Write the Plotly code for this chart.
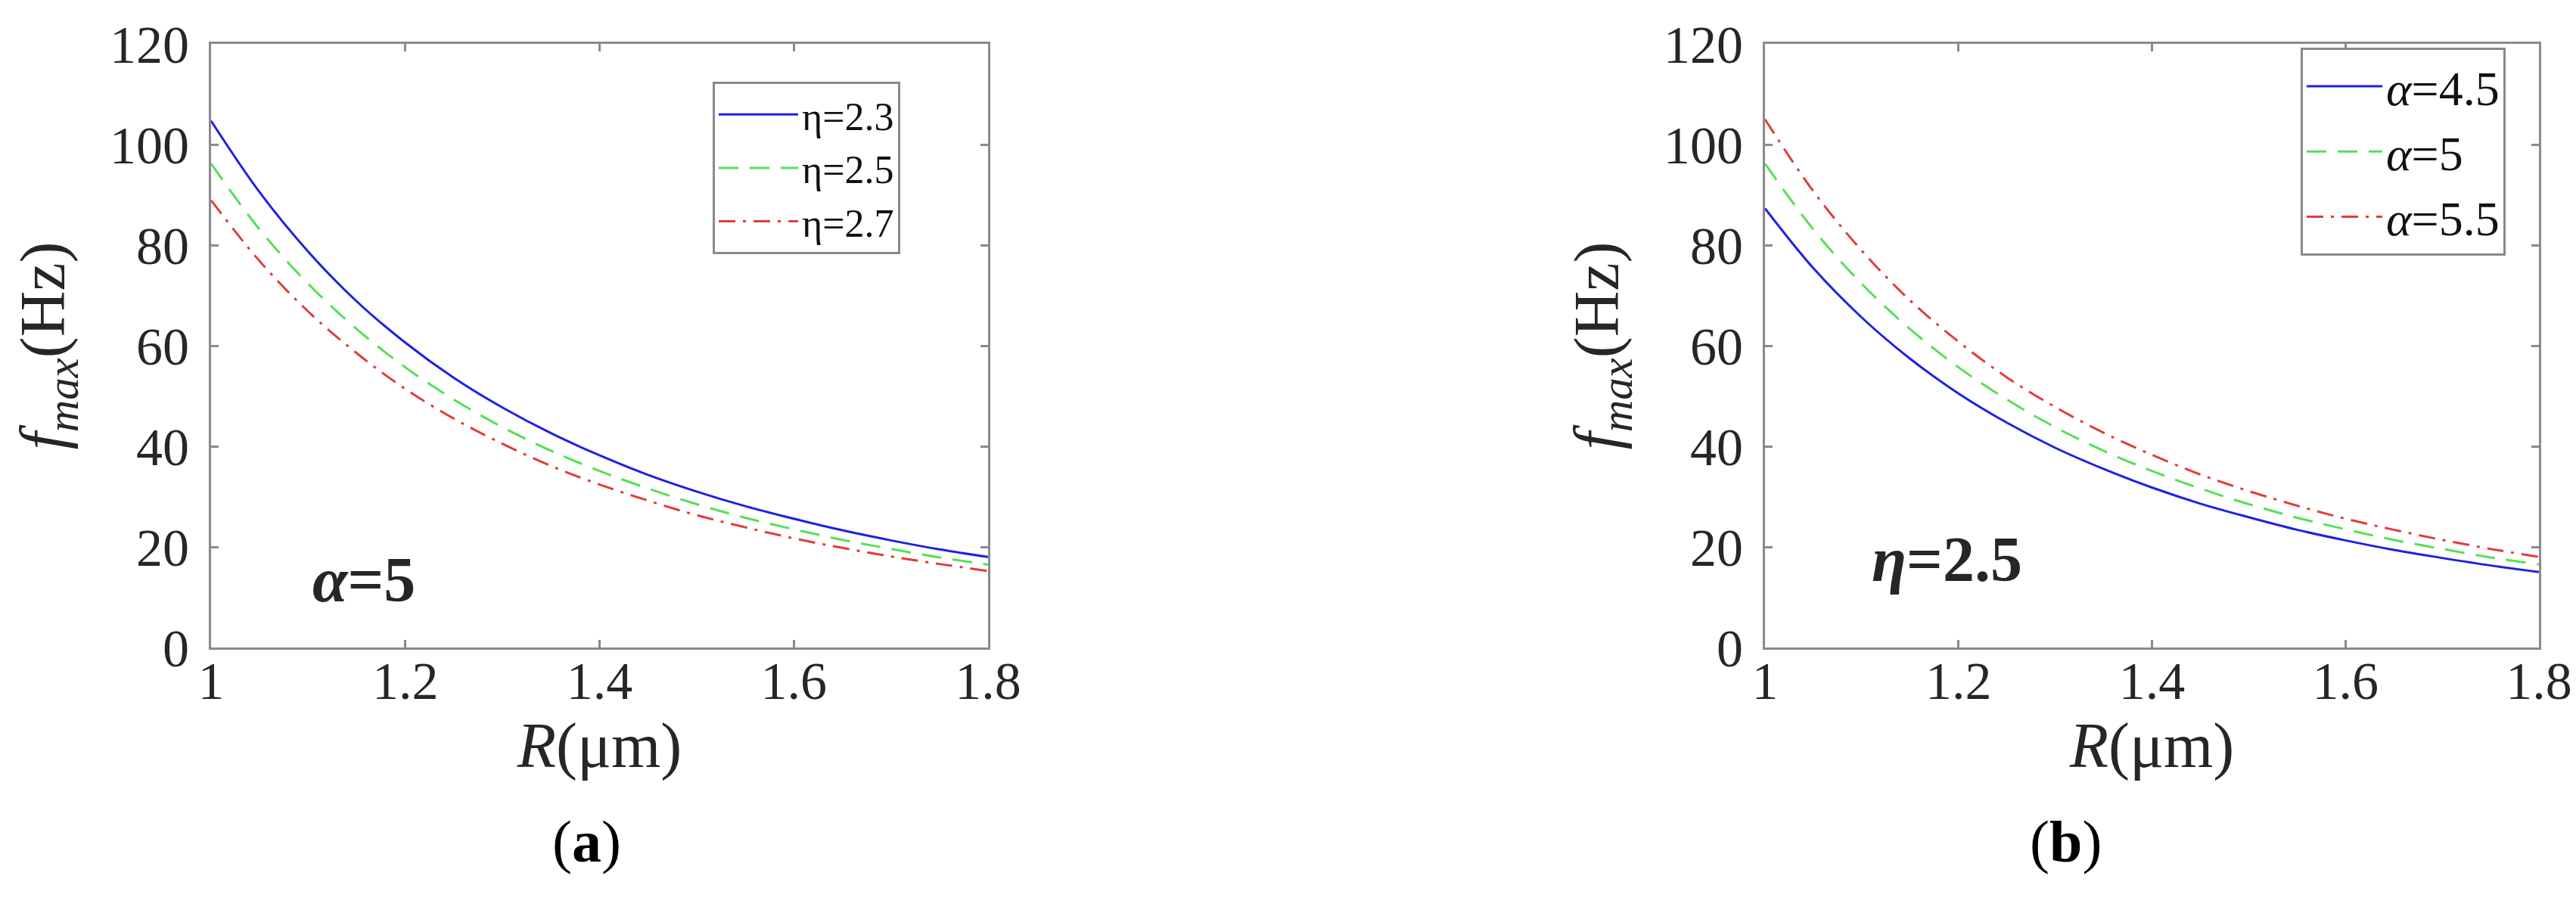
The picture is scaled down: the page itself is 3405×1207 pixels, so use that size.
import plotly.graph_objects as go

# values (f_max in Hz vs R in um)
R = [1.00, 1.05, 1.10, 1.15, 1.20, 1.25, 1.30, 1.35, 1.40,
     1.45, 1.50, 1.55, 1.60, 1.65, 1.70, 1.75, 1.80]

# panel (a): alpha = 5
f_eta23 = [104.7, 90.5, 78.7, 68.8, 60.6, 53.6, 47.7, 42.6, 38.2,
           34.3, 31.0, 28.1, 25.6, 23.3, 21.3, 19.5, 18.0]
f_eta25 = [96.2, 83.1, 72.3, 63.3, 55.7, 49.3, 43.8, 39.1, 35.1,
           31.6, 28.5, 25.8, 23.5, 21.4, 19.6, 17.9, 16.5]
f_eta27 = [88.9, 76.8, 66.8, 58.5, 51.4, 45.5, 40.5, 36.1, 32.4,
           29.2, 26.3, 23.9, 21.7, 19.8, 18.1, 16.6, 15.2]

# panel (b): eta = 2.5
f_a45 = [87.3, 75.4, 65.6, 57.4, 50.5, 44.7, 39.7, 35.5, 31.8,
         28.6, 25.9, 23.4, 21.3, 19.4, 17.8, 16.3, 15.0]
f_a50 = [96.2, 83.1, 72.3, 63.3, 55.7, 49.3, 43.8, 39.1, 35.1,
         31.6, 28.5, 25.8, 23.5, 21.4, 19.6, 17.9, 16.5]
f_a55 = [105.0, 90.7, 78.9, 69.0, 60.8, 53.7, 47.8, 42.7, 38.3,
         34.4, 31.1, 28.2, 25.6, 23.4, 21.4, 19.6, 18.0]

names_a = ['η=2.3', 'η=2.5', 'η=2.7']
names_b = ['<i>α</i>=4.5', '<i>α</i>=5', '<i>α</i>=5.5']
xticks = [1, 1.2, 1.4, 1.6, 1.8]
xticklabels = ['1', '1.2', '1.4', '1.6', '1.8']

FONT = 'Liberation Serif'
W, H = 3405, 1207
styles = [dict(color='#1f1fe6', width=3, dash='solid'),
          dict(color='#55e055', width=3, dash='26px,15px'),
          dict(color='#e23c3c', width=3, dash='22px,10px,4px,10px')]

fig = go.Figure()
for ys, nm, st in zip([f_eta23, f_eta25, f_eta27], names_a, styles):
    fig.add_trace(go.Scatter(x=R, y=ys, name=nm, mode='lines', line=dict(shape='spline', **st),
                             xaxis='x', yaxis='y', legend='legend'))
for ys, nm, st in zip([f_a45, f_a50, f_a55], names_b, styles):
    fig.add_trace(go.Scatter(x=R, y=ys, name=nm, mode='lines', line=dict(shape='spline', **st),
                             xaxis='x2', yaxis='y2', legend='legend2'))

def xax(dom, anchor):
    return dict(domain=dom, anchor=anchor, range=[1, 1.8], tickvals=xticks, ticktext=xticklabels,
                showline=True, linecolor='#8a8a8a', linewidth=3, mirror='ticks',
                ticks='inside', ticklen=10, tickwidth=3, tickcolor='#8a8a8a',
                showgrid=False, zeroline=False, ticklabelstandoff=-19,
                tickfont=dict(family=FONT, size=70, color='#262626'),
                title=dict(text='<i>R</i>(μm)', font=dict(family=FONT, size=84, color='#262626'), standoff=0),
                automargin=False)

def yax(anchor):
    return dict(domain=[(H - 848) / H, (H - 50) / H], anchor=anchor, range=[0, 120], dtick=20,
                showline=True, linecolor='#8a8a8a', linewidth=3, mirror='ticks',
                ticks='inside', ticklen=10, tickwidth=3, tickcolor='#8a8a8a',
                showgrid=False, zeroline=False, ticklabelstandoff=12,
                tickfont=dict(family=FONT, size=70, color='#262626'),
                title=dict(text='<i>f</i><sub><i>max</i></sub>(Hz)', font=dict(family=FONT, size=84, color='#262626'), standoff=32),
                automargin=False)

leg = dict(bgcolor='white', bordercolor='#8a8a8a', borderwidth=3, xanchor='left', yanchor='top',
           tracegroupgap=0)

fig.update_layout(
    width=W, height=H, margin=dict(l=0, r=0, t=0, b=0),
    font=dict(family=FONT, color='#262626'),
    paper_bgcolor='white', plot_bgcolor='white', showlegend=True,
    xaxis=xax([271 / W, 1298 / W], 'y'), yaxis=yax('x'),
    xaxis2=xax([2325 / W, 3348 / W], 'y2'), yaxis2=yax('x2'),
    legend=dict(x=934 / W, y=1 - 100 / H, itemwidth=105,
                font=dict(family=FONT, size=52, color='#111111'), **leg),
    legend2=dict(x=3033 / W, y=1 - 55 / H, itemwidth=100,
                 font=dict(family=FONT, size=64, color='#111111'), **leg),
    annotations=[
        dict(x=1.157, y=13.4, xref='x', yref='y', text='<b><i>α</i>=5</b>', showarrow=False,
             font=dict(family=FONT, size=84, color='#262626')),
        dict(x=1.188, y=17.5, xref='x2', yref='y2', text='<b><i>η</i>=2.5</b>', showarrow=False,
             font=dict(family=FONT, size=84, color='#262626')),
        dict(x=720 / W, y=1 - 1150 / H, xref='paper', yref='paper', text='(<b>a</b>)', showarrow=False,
             font=dict(family=FONT, size=78, color='black')),
        dict(x=2772 / W, y=1 - 1150 / H, xref='paper', yref='paper', text='(<b>b</b>)', showarrow=False,
             font=dict(family=FONT, size=78, color='black')),
    ],
)

fig.write_html("out.html")
